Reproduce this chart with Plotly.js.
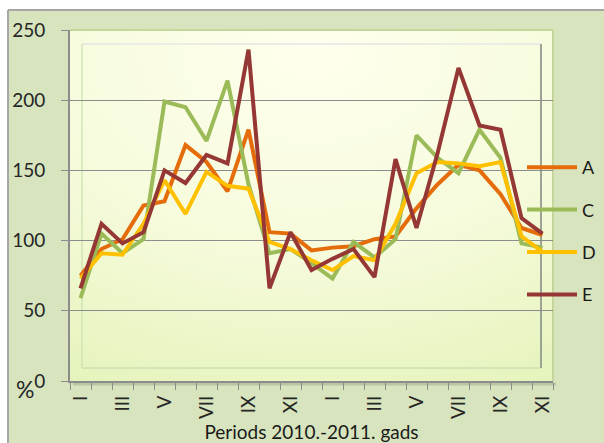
<!DOCTYPE html>
<html>
<head>
<meta charset="utf-8">
<script src="https://cdn.plot.ly/plotly-3.0.1.min.js"></script>
<style>html,body{margin:0;padding:0;background:#fff;}#chart{width:604px;height:443px;}</style>
</head>
<body>
<div id="chart"></div>
<script>
// Periods: January 2010 .. November 2011 (monthly)
const periods = ["2010 I","2010 II","2010 III","2010 IV","2010 V","2010 VI","2010 VII","2010 VIII","2010 IX","2010 X","2010 XI","2010 XII",
                 "2011 I","2011 II","2011 III","2011 IV","2011 V","2011 VI","2011 VII","2011 VIII","2011 IX","2011 X","2011 XI"];
const tickLabels = ["I","III","V","VII","IX","XI","I","III","V","VII","IX","XI"];
const seriesNames = ["A","C","D","E"];
const seriesA = [75, 94, 101, 125, 128, 168, 156, 135, 179, 106, 105, 93, 95, 96, 101, 103, 123, 140, 154, 150, 133, 109, 104];
const seriesC = [59, 105, 91, 101, 199, 195, 171, 214, 140, 91, 94, 84, 73, 99, 88, 101, 175, 159, 148, 179, 159, 98, 95];
const seriesD = [73, 91, 90, 112, 143, 119, 149, 139, 137, 99, 94, 86, 79, 89, 86, 112, 148, 156, 155, 153, 156, 103, 92];
const seriesE = [66, 112, 98, 106, 150, 141, 161, 155, 236, 66, 106, 79, 87, 94, 74, 158, 109, 162, 223, 182, 179, 116, 105];
const yTicks = [0, 50, 100, 150, 200, 250];

const colors = ["#E46C0A", "#9BBB59", "#FFC000", "#953735"];
const values = [seriesA, seriesC, seriesD, seriesE];
const xIdx = periods.map((p, i) => i);
const tickPos = tickLabels.map((t, i) => i * 2);

const FONT = "Lato, 'Liberation Sans', sans-serif";

const traces = values.map((v, k) => ({
  type: "scatter", mode: "lines", x: xIdx, y: v, name: seriesNames[k],
  legendgroup: seriesNames[k],
  line: {color: colors[k], width: 4},
  hoverinfo: "skip"
}));

const svg = "<svg xmlns='http://www.w3.org/2000/svg' width='200' height='200' preserveAspectRatio='none'>" +
  "<defs><radialGradient id='g' cx='0.5' cy='0.05' r='1.15'>" +
  "<stop offset='0' stop-color='#ffffee'/><stop offset='0.5' stop-color='#f6fbdc'/><stop offset='1' stop-color='#e2f2b6'/>" +
  "</radialGradient></defs><rect width='200' height='200' fill='url(#g)'/></svg>";
const bgUri = "data:image/svg+xml;base64," + btoa(svg);

const W = 604, H = 443, ML = 70, MR = 51, MT = 30, MB = 62;
const PW = W - ML - MR, PH = H - MT - MB;
const px = x => (x - ML) / PW;
const py = y => (H - MB - y) / PH;

const layout = {
  width: W, height: H,
  margin: {l: ML, r: MR, t: MT, b: MB, pad: 0, autoexpand: false},
  paper_bgcolor: "#d7e4bd",
  plot_bgcolor: "rgba(0,0,0,0)",
  font: {family: FONT, color: "#262626", size: 16},
  showlegend: true,
  legend: {
    x: px(522), y: py(149), xanchor: "left", yanchor: "top",
    bgcolor: "rgba(0,0,0,0)", font: {size: 18, family: FONT, color: "#1a1a1a"},
    tracegroupgap: 16, itemwidth: 50
  },
  xaxis: {
    type: "linear", range: [-0.5, periods.length - 0.5],
    tickmode: "array", tickvals: tickPos, ticktext: tickLabels,
    tickangle: -90, ticks: "", showgrid: false, zeroline: false,
    showline: true, linecolor: "#8c8c8c", linewidth: 2,
    tickfont: {size: 19, family: FONT, color: "#262626"},
    ticklabelstandoff: 5, automargin: false,
    minor: {tickmode: "linear", tick0: -0.5, dtick: 1, ticks: "outside", ticklen: 7, tickcolor: "#8c8c8c", tickwidth: 1, showgrid: false},
    title: {text: "Periods 2010.-2011. gads", font: {size: 19, family: FONT, color: "#1a1a1a"}, standoff: 13},
    fixedrange: true
  },
  yaxis: {
    range: [0, 250], tickmode: "array", tickvals: yTicks, ticktext: yTicks.map(String),
    showgrid: true, gridcolor: "#8c8c8c", gridwidth: 1, zeroline: false,
    showline: true, linecolor: "#8c8c8c", linewidth: 2,
    ticks: "outside", ticklen: 7, tickcolor: "#8c8c8c",
    tickfont: {size: 19, family: FONT, color: "#262626"},
    ticklabelstandoff: 12, automargin: false,
    fixedrange: true
  },
  images: [{source: bgUri, xref: "paper", yref: "paper", x: 0, y: 1, sizex: 1, sizey: 1,
            sizing: "stretch", xanchor: "left", yanchor: "top", layer: "below"}],
  shapes: [
    {type: "rect", xref: "paper", yref: "paper", x0: px(-5), x1: px(8), y0: py(450), y1: py(-5), fillcolor: "#ffffff", line: {width: 0}, layer: "below"},
    {type: "rect", xref: "paper", yref: "paper", x0: px(-5), x1: px(610), y0: py(10), y1: py(-5), fillcolor: "#ffffff", line: {width: 0}, layer: "below"},
    {type: "line", xref: "paper", yref: "paper", x0: px(8), x1: px(610), y0: py(10), y1: py(10), line: {color: "#a6a6a6", width: 2}, layer: "below"},
    {type: "line", xref: "paper", yref: "paper", x0: px(8), x1: px(8), y0: py(10), y1: py(450), line: {color: "#a6a6a6", width: 2}, layer: "below"},
    {type: "line", xref: "paper", yref: "paper", x0: 0, x1: 1, y0: 1, y1: 1, line: {color: "#c3d69b", width: 2}, layer: "below"},
    {type: "line", xref: "paper", yref: "paper", x0: 1, x1: 1, y0: 0, y1: 1, line: {color: "#c3d69b", width: 2}, layer: "below"},
    {type: "line", xref: "paper", yref: "paper", x0: px(73), x1: px(556), y0: py(384), y1: py(384), line: {color: "#b9c6a6", width: 3}, layer: "below"},
    {type: "line", xref: "paper", yref: "paper", x0: px(82), x1: px(541), y0: py(44), y1: py(44), line: {color: "#e6e6e6", width: 1.5}, layer: "below"},
    {type: "line", xref: "paper", yref: "paper", x0: px(82), x1: px(82), y0: py(44), y1: py(368), line: {color: "#d3e4b6", width: 1.5}, layer: "below"},
    {type: "line", xref: "paper", yref: "paper", x0: px(82), x1: px(541), y0: py(368), y1: py(368), line: {color: "#d3e4b6", width: 2}, layer: "below"},
    {type: "line", xref: "paper", yref: "paper", x0: px(541), x1: px(541), y0: py(44), y1: py(368), line: {color: "#9aa394", width: 2}, layer: "below"}
  ],
  annotations: [
    {text: "%", xref: "paper", yref: "paper", x: px(25), y: py(389), xanchor: "center", yanchor: "middle",
     showarrow: false, font: {size: 23, family: FONT, color: "#262626"}}
  ]
};

Plotly.newPlot("chart", traces, layout, {displayModeBar: false, staticPlot: true});
</script>
</body>
</html>
